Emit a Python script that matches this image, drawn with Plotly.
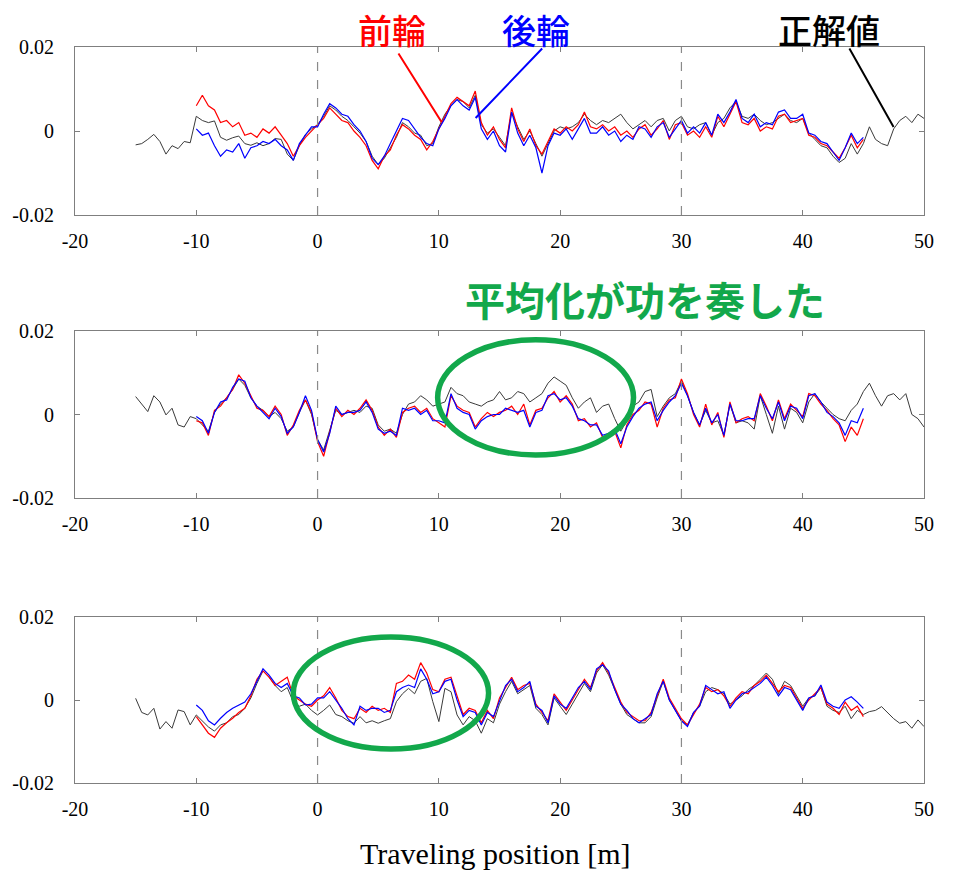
import numpy as np
import plotly.graph_objects as go

# ---------------- data (values in units of 1e-3) ----------------
SCALE = 1e-3
X_TRUTH = np.arange(-15, 50.001, 0.5)   # 正解値 sampling positions [m]
X_WHEEL = np.arange(-10, 45.001, 0.5)   # 前輪 / 後輪 sampling positions [m]

P1_TRUTH = [-3.3, -3.0, -2.0, -0.8, -2.5, -5.5, -3.5, -4.2, -2.5, -2.8,
            3.5, 2.5, 2.0, 2.4, -1.5, -2.2, -1.6, -1.2, -3.0, -3.4,
            -2.8, -3.5, -3.0, -1.8, -2.0, -5.5, -7.0, -3.5, -0.8, 0.5,
            1.5, 3.5, 6.0, 5.0, 3.5, 2.5, 1.0, -0.5, -2.5, -6.0,
            -8.0, -6.5, -4.0, -1.5, 2.0, 1.0, -0.5, -1.0, -3.5, -3.0,
            1.0, 4.0, 6.0, 7.5, 7.0, 5.5, 8.5, 1.5, -0.5, 0.5,
            -1.5, -3.5, 4.5, 1.0, -2.0, 0.0, -3.0, -6.0, -3.0, 0.0,
            1.0, 0.5, 1.0, 2.0, 4.0, 2.5, 1.5, 2.5, 2.0, 3.0,
            4.0, 2.0, 0.5, 1.5, 2.5, 1.0, 2.5, 3.0, 0.0, 2.5,
            3.5, 1.0, 0.5, 1.5, 2.0, -1.0, 2.0, 3.0, 5.5, 7.0,
            3.5, 3.0, 4.0, 2.5, 1.5, 2.0, 3.0, 4.0, 2.5, 2.0,
            3.0, -0.5, -2.0, -3.5, -4.0, -6.0, -7.5, -6.5, -3.0, -5.5,
            -3.0, 1.0, -2.0, -3.0, -3.5, 0.5, 2.5, 3.5, 2.0, 4.0,
            3.0]
P1_FRONT = [6.0, 8.5, 6.0, 5.0, 2.0, 2.5, 1.0, 2.0, -1.0, -0.5,
            -1.5, 0.5, -0.5, 1.0, -1.0, -3.0, -6.0, -3.5, -1.5, 0.0,
            1.5, 3.0, 5.5, 4.0, 2.5, 2.0, 0.0, -1.5, -3.5, -7.0,
            -9.0, -6.0, -4.5, -1.0, 1.5, 0.5, -1.0, -2.0, -4.5, -2.5,
            0.5, 3.5, 6.5, 8.0, 7.0, 6.0, 9.5, 2.0, -1.0, 1.0,
            -2.0, -4.0, 5.5, 0.5, -2.5, 0.5, -3.5, -5.5, -2.5, 0.5,
            -0.5, 1.0, 0.0, 1.5, 4.5, 1.0, 0.5, 1.5, 0.0, 1.0,
            -1.0, 0.0, -1.5, 0.5, 1.5, -1.0, 0.5, 2.5, -2.0, 1.5,
            2.0, -1.0, 0.0, -1.5, 1.0, -1.5, 3.5, 1.0, 4.0, 7.0,
            2.0, 1.5, 3.0, 0.0, 1.0, 0.5, 3.5, 4.0, 2.0, 2.5,
            3.0, -1.0, -1.5, -3.0, -3.5, -5.0, -6.5, -4.0, -1.0, -4.0,
            -2.0]
P1_REAR = [0.5, -1.0, -0.5, -3.5, -6.0, -4.5, -5.0, -3.0, -6.5, -4.0,
           -3.5, -2.5, -3.0, -2.0, -3.5, -4.5, -7.0, -3.0, -1.0, 1.0,
           1.0, 4.0, 6.5, 5.5, 4.0, 3.5, 1.5, 0.0, -2.5, -6.5,
           -8.0, -6.0, -3.0, 0.0, 3.0, 2.5, 0.5, -1.5, -3.0, -3.5,
           0.5, 3.0, 6.0, 7.5, 6.0, 5.0, 8.0, 0.5, -2.0, 0.0,
           -3.5, -5.0, 4.5, -0.5, -3.5, -1.0, -4.0, -10.0, -3.5, -0.5,
           -1.0, 0.5, -2.0, 0.5, 3.0, -0.5, -0.5, 1.0, -1.0, 0.0,
           -2.5, -1.0, -2.0, 1.0, 0.5, -1.5, 1.0, 2.0, -1.5, 0.5,
           2.5, -0.5, 1.0, -0.5, 2.0, -1.0, 4.0, 2.0, 4.5, 7.5,
           3.0, 2.0, 4.0, 1.0, 2.0, 1.5, 4.5, 5.0, 3.0, 3.0,
           4.0, -0.5, -1.0, -2.5, -3.0, -5.0, -7.0, -4.0, -0.5, -3.0,
           -1.5]

P2_TRUTH = [4.3, 2.5, 0.7, 4.5, 3.0, -0.1, 1.5, -2.5, -3.0, -0.5,
            -1.0, -2.5, -4.0, 0.5, 2.5, 4.0, 6.0, 8.5, 7.0, 4.0,
            2.0, 1.0, -0.5, 0.5, -1.0, -4.0, -3.0, 0.5, 3.5, 0.0,
            -6.0, -8.5, -4.0, 1.0, 0.0, 0.5, 1.0, 0.5, 2.0, 1.5,
            -2.5, -4.0, -3.5, -4.5, 0.0, 2.5, 3.0, 4.5, 3.5, 2.0,
            2.5, 3.0, 6.5, 5.0, 4.5, 3.0, 2.5, 2.0, 3.0, 3.5,
            5.5, 3.5, 4.0, 5.5, 5.0, 3.0, 4.0, 5.0, 7.5, 9.0,
            8.0, 7.0, 4.0, 1.5, 3.0, 4.0, 0.5, 2.0, 2.5, -1.0,
            -4.0, -1.5, 2.0, 3.0, 5.5, 6.0, -0.5, 2.0, 4.0, 5.0,
            8.0, 4.5, 0.5, -2.5, 1.0, -2.0, -1.5, -5.0, 2.5, -2.0,
            -1.5, -2.0, -3.5, 4.5, 0.0, -4.5, 2.0, -3.5, 1.5, 0.5,
            -2.0, 3.0, 5.0, 3.0, 1.5, 0.0, -1.0, -1.5, 1.0, 2.5,
            5.5, 7.5, 4.5, 2.0, 4.5, 5.0, 3.5, 5.0, 0.0, -1.0,
            -3.0]
P2_FRONT = [-1.5, -2.0, -5.0, 1.0, 2.0, 4.0, 6.0, 9.5, 7.5, 4.5,
            1.5, 1.0, -0.5, 2.0, 0.0, -5.0, -2.5, 1.0, 3.5, 0.5,
            -6.5, -10.0, -4.0, 1.5, -0.5, 1.0, 0.0, 1.5, 3.5, 1.0,
            -3.0, -5.0, -3.5, -5.5, 0.5, 1.5, 2.0, 0.5, 1.5, -1.0,
            -2.0, -3.0, 4.5, 2.0, 1.0, 0.5, -3.0, -1.0, 0.5, -0.5,
            0.5, 1.0, 2.0, 0.0, 2.5, -2.5, 1.0, 1.5, 4.0, 5.5,
            3.0, 4.5, 2.5, -1.5, -1.0, -3.0, -2.0, -5.5, -5.0, -4.0,
            -8.0, -2.5, 0.0, 1.0, 3.0, 2.5, -3.0, 1.5, 3.5, 4.0,
            8.5, 5.0, 0.0, -3.0, 2.5, -2.5, 0.5, -5.5, 3.0, -2.0,
            -1.0, -0.5, -1.5, 5.0, 2.0, -1.5, 3.5, -1.0, 2.5, 1.0,
            -0.5, 5.0, 4.5, 2.5, 1.0, -1.0, -2.5, -6.5, -3.0, -5.0,
            -1.0]
P2_REAR = [-0.5, -1.5, -4.5, 0.5, 3.0, 3.5, 6.5, 8.5, 8.0, 4.0,
           2.0, 0.5, -1.0, 1.5, -0.5, -4.5, -3.0, 0.5, 4.5, 1.0,
           -6.0, -9.0, -4.5, 2.0, 0.0, 0.5, 0.5, 1.0, 3.0, 0.5,
           -3.5, -4.5, -4.0, -5.0, 1.5, 1.0, 1.5, 0.0, 1.0, -1.5,
           -1.5, -2.0, 5.0, 1.5, 0.5, 0.0, -3.5, -1.5, -0.5, 0.0,
           0.0, 1.5, 1.0, 0.5, 1.0, -3.0, 0.5, 1.0, 4.5, 5.0,
           3.5, 4.0, 2.0, -1.0, -1.5, -2.5, -2.5, -5.0, -4.5, -3.5,
           -7.0, -3.0, -0.5, 1.5, 2.5, 3.0, -1.5, 1.0, 3.0, 4.5,
           7.5, 4.5, 0.5, -2.5, 1.5, -2.0, 0.0, -5.0, 2.5, -1.5,
           -1.5, -1.0, -1.0, 4.5, 1.5, -1.0, 3.0, -1.5, 2.0, 1.5,
           -1.0, 4.5, 5.0, 3.0, 0.5, -0.5, -2.0, -5.0, -1.5, -2.0,
           1.5]

P3_TRUTH = [0.4, -3.0, -3.6, -2.0, -7.0, -5.2, -6.8, -2.4, -2.8, -6.0,
            -3.6, -5.0, -6.5, -7.5, -6.0, -5.5, -4.0, -3.5, -2.0, 0.5,
            4.0, 7.0, 5.5, 3.5, 2.0, 3.0, -0.5, -1.5, -1.0, -2.5,
            -3.6, -2.5, -1.2, -3.5, -4.0, -5.0, -5.6, -4.0, -5.5, -5.0,
            -5.6, -5.0, -4.5, -0.4, 1.5, 2.8, 1.5, 4.5, 5.2, -0.4,
            -5.2, 2.8, 2.0, -3.6, -6.0, -4.0, -5.0, -8.0, -4.5, -5.5,
            -1.0, 2.0, 4.5, 1.5, 2.5, 3.5, -2.0, -3.5, -6.0, 0.5,
            -1.5, -3.5, -1.0, 1.5, 4.0, 2.0, 6.5, 8.5, 6.0, 2.5,
            -1.0, -3.5, -4.5, -5.5, -5.5, -4.0, 0.5, 4.5, 0.0, -2.5,
            -5.0, -6.0, -3.0, -1.5, 2.0, 3.0, 2.5, 1.5, -1.0, 0.0,
            1.0, 2.5, 3.5, 5.0, 6.5, 5.0, 1.5, 4.5, 3.5, 1.0,
            -1.5, 0.5, 1.0, 3.0, -1.5, -2.5, -3.0, -1.5, -4.5, -2.5,
            -3.5, -2.8, -2.5, -1.6, -3.0, -4.5, -5.6, -5.2, -6.8, -4.8,
            -6.4]
P3_FRONT = [-4.0, -6.0, -8.0, -9.0, -6.8, -5.5, -4.4, -3.0, -2.0, 1.0,
            5.0, 7.0, 5.5, 3.5, 4.5, 5.5, 1.0, 0.0, -1.0, -1.5,
            0.0, 1.0, 3.0, 0.5, -2.5, -4.0, -4.5, -2.0, -3.0, -1.5,
            -2.5, -2.0, -3.0, 4.0, 4.5, 6.0, 5.0, 9.0, 6.5, 2.5,
            2.0, 5.0, 5.5, 1.0, -3.5, -2.0, -2.5, -5.5, -2.5, -4.5,
            0.5, 3.0, 5.5, 2.5, 3.5, 4.0, -1.0, -3.0, -5.0, 1.5,
            -0.5, -2.5, 0.0, 2.5, 5.0, 3.0, 7.0, 9.0, 6.5, 3.0,
            -0.5, -3.0, -4.0, -5.0, -5.0, -3.0, 1.0, 5.0, 0.5, -2.0,
            -4.5, -6.0, -3.5, -1.0, 3.0, 2.0, 2.5, 1.0, -1.5, 0.5,
            2.0, 1.5, 3.5, 4.5, 6.0, 4.0, 2.0, 3.5, 3.0, 0.5,
            -2.0, 0.0, 1.5, 3.0, -1.0, -2.0, -3.5, -0.5, -2.5, -1.5,
            -4.0]
P3_REAR = [-1.2, -2.5, -5.0, -6.0, -4.4, -3.0, -2.0, -1.2, -0.5, 1.5,
           4.5, 7.5, 6.0, 4.0, 3.0, 4.0, 1.0, 0.5, -1.2, -1.0,
           0.5, 0.5, 2.0, 0.0, -2.0, -4.5, -6.0, -1.5, -2.5, -2.0,
           -2.0, -3.0, -2.5, 2.0, 3.0, 3.6, 3.0, 7.5, 5.0, 1.5,
           2.0, 4.5, 5.0, 0.0, -4.0, -2.5, -3.0, -6.0, -3.0, -4.0,
           0.0, 3.5, 5.0, 2.0, 3.0, 4.5, -1.5, -2.5, -5.5, 1.0,
           -1.0, -2.0, 0.5, 3.0, 4.5, 2.5, 7.5, 8.5, 7.0, 2.5,
           -1.0, -2.5, -4.5, -5.5, -4.5, -3.5, 1.5, 4.5, 0.0, -2.5,
           -5.0, -6.4, -3.0, -1.5, 3.5, 2.5, 1.5, 2.0, -2.0, 0.0,
           1.5, 2.0, 3.0, 4.0, 5.5, 3.5, 1.0, 3.0, 2.5, 0.0,
           -2.5, 0.5, 1.0, 3.6, -0.5, -1.5, -2.0, 0.0, 0.8, -0.5,
           -2.0]

X_TICKS = [-20, -10, 0, 10, 20, 30, 40, 50]
X_TICK_LABELS = ["-20", "-10", "0", "10", "20", "30", "40", "50"]
Y_TICKS = [-0.02, 0, 0.02]
Y_TICK_LABELS = ["-0.02", "0", "0.02"]
DASHED_X = [0, 30]

PANELS = [(P1_TRUTH, P1_FRONT, P1_REAR),
          (P2_TRUTH, P2_FRONT, P2_REAR),
          (P3_TRUTH, P3_FRONT, P3_REAR)]

for t, f, r in PANELS:
    if len(t) != len(X_TRUTH) or len(f) != len(X_WHEEL) or len(r) != len(X_WHEEL):
        raise ValueError(f"length mismatch {len(t)} {len(f)} {len(r)}")

# ---------------- figure ----------------
W, H = 955, 873
X_DOMAIN = [75 / W, 924 / W]
Y_DOMAINS = [[1 - 215 / H, 1 - 47 / H],
             [1 - 498 / H, 1 - 331 / H],
             [1 - 783 / H, 1 - 617 / H]]
SERIF = "Liberation Serif, Times New Roman, serif"
CJK = "Noto Sans CJK JP, sans-serif"
GREEN = "#12A84B"

fig = go.Figure()
layout = dict(width=W, height=H, margin=dict(l=0, r=0, t=0, b=0, pad=0),
              paper_bgcolor="white", plot_bgcolor="white", showlegend=False,
              shapes=[], annotations=[])

for i, (t, f, r) in enumerate(PANELS):
    n = "" if i == 0 else str(i + 1)
    xa, ya = "x" + n, "y" + n
    fig.add_trace(go.Scatter(x=X_TRUTH, y=np.array(t) * SCALE, mode="lines",
                             line=dict(color="#3a3a3a", width=1), xaxis=xa, yaxis=ya))
    fig.add_trace(go.Scatter(x=X_WHEEL, y=np.array(f) * SCALE, mode="lines",
                             line=dict(color="#ff0000", width=1.2), xaxis=xa, yaxis=ya))
    fig.add_trace(go.Scatter(x=X_WHEEL, y=np.array(r) * SCALE, mode="lines",
                             line=dict(color="#0000ff", width=1.2), xaxis=xa, yaxis=ya))
    axis_common = dict(showline=True, mirror="ticks", linecolor="#7f7f7f", linewidth=1,
                       ticks="inside", ticklen=5, tickcolor="#7f7f7f", showgrid=False,
                       zeroline=False, automargin=False,
                       tickfont=dict(family=SERIF, size=20, color="black"))
    layout["xaxis" + n] = dict(domain=X_DOMAIN, range=[-20, 50], anchor=ya,
                               tickmode="array", tickvals=X_TICKS, ticktext=X_TICK_LABELS,
                               ticklabelstandoff=8, **axis_common)
    layout["yaxis" + n] = dict(domain=Y_DOMAINS[i], range=[-0.02, 0.02], anchor=xa,
                               tickmode="array", tickvals=Y_TICKS, ticktext=Y_TICK_LABELS,
                               ticklabelstandoff=16, **axis_common)
    for dx in DASHED_X:
        layout["shapes"].append(dict(type="line", xref=xa, yref=ya + " domain",
                                     x0=dx, x1=dx, y0=0, y1=1,
                                     line=dict(color="#8a8a8a", width=1.2, dash="dash")))

# ellipses
layout["shapes"].append(dict(type="circle", xref="x2", yref="y2", x0=9.9, x1=26.05,
                             y0=-0.0097, y1=0.0179, line=dict(color=GREEN, width=5.5)))
layout["shapes"].append(dict(type="circle", xref="x3", yref="y3", x0=-2.0, x1=14.1,
                             y0=-0.0118, y1=0.0152, line=dict(color=GREEN, width=5.5)))

# leader lines (text-less annotation arrows) and labels
def leader(x, y, ax, ay, color):
    return dict(text="", x=x, y=y, xref="x", yref="y", ax=ax, ay=ay,
                showarrow=True, arrowhead=0, arrowwidth=2, arrowcolor=color, standoff=0)

def label(text, px, py, color, size, bold=False):
    return dict(text=f"<b>{text}</b>" if bold else text, x=px / W, y=1 - py / H,
                xref="paper", yref="paper", xanchor="center", yanchor="middle",
                showarrow=False, font=dict(family=CJK, size=size, color=color,
                                           weight=700 if bold else 500))

layout["annotations"] += [
    leader(10.22, 0.00214, -44, -70, "#ff0000"),
    leader(13.03, 0.0031, 68, -71, "#0000ff"),
    leader(47.49, 0.00095, -45, -80, "black"),
    label("前輪", 392, 30, "#ff0000", 34),
    label("後輪", 536, 30, "#0000ff", 34),
    label("正解値", 829, 30, "black", 34),
    label("平均化が功を奏した", 645, 299, GREEN, 40, bold=True),
    dict(text="Traveling position [m]", x=495 / W, y=1 - 853 / H, xref="paper", yref="paper",
         xanchor="center", yanchor="middle",
         showarrow=False, font=dict(family=SERIF, size=30, color="black")),
]

fig.update_layout(**layout)
fig.write_html("out.html")
